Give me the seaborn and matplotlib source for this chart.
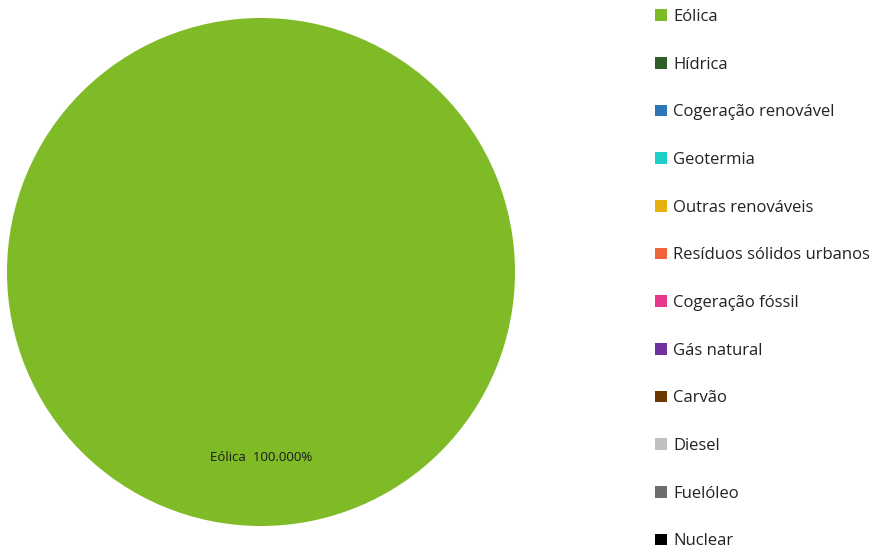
import matplotlib
matplotlib.use("Agg")
import matplotlib.pyplot as plt
import matplotlib.patches as mpatches
import seaborn as sns

# data
categories = ["Eólica", "Hídrica", "Cogeração renovável", "Geotermia",
              "Outras renováveis", "Resíduos sólidos urbanos", "Cogeração fóssil",
              "Gás natural", "Carvão", "Diesel", "Fuelóleo", "Nuclear"]
shares = [100.0, 0, 0, 0, 0, 0, 0, 0, 0, 0, 0, 0]
colors = ["#7fba27", "#2e5e2a", "#2e75b6", "#1ecfc8", "#e6b00e", "#f0643a",
          "#e8388a", "#7030a0", "#6b3800", "#bfbfbf", "#6d6d6d", "#000000"]

sns.set_theme(style="white")
plt.rcParams['font.family'] = ['Open Sans', 'DejaVu Sans']

fig = plt.figure(figsize=(8.96, 5.53), dpi=100)
W, H = 896, 553
# pie axes placed in pixels: center ~ (261, 272), radius ~254
ax = fig.add_axes([7 / W, (H - 526) / H, 508 / W, 508 / H])

vals = [v for v in shares if v > 0]
cols = [c for c, v in zip(colors, shares) if v > 0]
labs = [f"{n}  {v:.3f}%" for n, v in zip(categories, shares) if v > 0]

wedges, texts = ax.pie(vals, colors=cols, labels=labs, startangle=90,
                       counterclock=False, radius=1, labeldistance=0.73,
                       wedgeprops=dict(linewidth=0),
                       textprops=dict(fontsize=9.5, color="#1a1a1a",
                                      ha="center", va="center"))
ax.set_xlim(-1, 1)
ax.set_ylim(-1, 1)
ax.set_aspect("equal")

handles = [mpatches.Patch(facecolor=c, edgecolor="none", label=n)
           for n, c in zip(categories, colors)]
fig.legend(handles=handles, loc="upper left",
           bbox_to_anchor=(655 / W, 1 - 9 / H), frameon=False,
           fontsize=12, handlelength=0.7, handleheight=0.7,
           handletextpad=0.4, labelspacing=1.9, borderpad=0,
           borderaxespad=0, labelcolor="#222222")

fig.savefig("out.png", dpi=100, facecolor="white")
